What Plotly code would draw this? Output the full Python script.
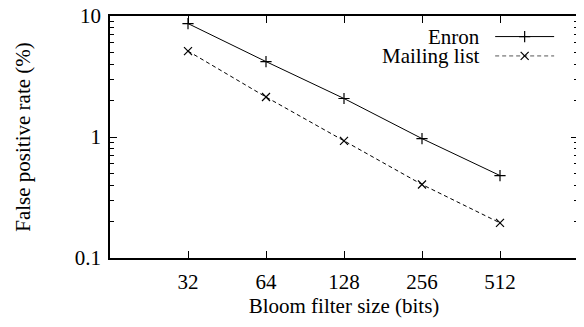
import plotly.graph_objects as go

sizes = [32, 64, 128, 256, 512]
enron = [8.66, 4.2, 2.08, 0.97, 0.48]
mailing = [5.13, 2.14, 0.93, 0.405, 0.195]
x_ticks = [32, 64, 128, 256, 512]
x_tick_labels = ["32", "64", "128", "256", "512"]
y_ticks = [0.1, 1, 10]
y_tick_labels = ["0.1", "1", "10"]
y_minor = [0.2, 0.3, 0.4, 0.5, 0.6, 0.7, 0.8, 0.9, 2, 3, 4, 5, 6, 7, 8, 9]
series_names = ["Enron", "Mailing list"]

FONT = "Liberation Serif"
FS = 21
DASH = "4px,3px"

fig = go.Figure()
fig.add_trace(go.Scatter(
    x=sizes, y=enron, mode="lines+markers", name=series_names[0],
    line=dict(color="black", width=1),
    marker=dict(symbol="cross-thin", size=8, line=dict(color="black", width=1.2)),
    showlegend=False))
fig.add_trace(go.Scatter(
    x=sizes, y=mailing, mode="lines+markers", name=series_names[1],
    line=dict(color="black", width=1, dash=DASH),
    marker=dict(symbol="x-thin", size=8, line=dict(color="black", width=1.2)),
    showlegend=False))

# gnuplot-style key: text on the left, sample on the right
leg_y = [0.915, 0.835]
fig.add_trace(go.Scatter(x=[0.823, 0.949], y=[leg_y[0]] * 2, mode="lines",
                         line=dict(color="black", width=1), xaxis="x2", yaxis="y2",
                         showlegend=False, hoverinfo="skip"))
fig.add_trace(go.Scatter(x=[0.886], y=[leg_y[0]], mode="markers",
                         marker=dict(symbol="cross-thin", size=8, line=dict(color="black", width=1.2)),
                         xaxis="x2", yaxis="y2", showlegend=False, hoverinfo="skip"))
fig.add_trace(go.Scatter(x=[0.823, 0.949], y=[leg_y[1]] * 2, mode="lines",
                         line=dict(color="#555555", width=1, dash=DASH), xaxis="x2", yaxis="y2",
                         showlegend=False, hoverinfo="skip"))
fig.add_trace(go.Scatter(x=[0.886], y=[leg_y[1]], mode="markers",
                         marker=dict(symbol="x-thin", size=8, line=dict(color="black", width=1.2)),
                         xaxis="x2", yaxis="y2", showlegend=False, hoverinfo="skip"))
for name, yy in zip(series_names, leg_y):
    fig.add_annotation(x=0.795, y=yy, xref="x2", yref="y2", text=name, showarrow=False,
                       xanchor="right", yanchor="middle",
                       font=dict(family=FONT, size=FS, color="black"))

# page body has an 8px margin, so the figure is sized/offset to compensate
fig.update_layout(
    width=576, height=319,
    margin=dict(l=102, r=6, t=8, b=69, autoexpand=False),
    paper_bgcolor="white", plot_bgcolor="white",
    font=dict(family=FONT, size=FS, color="black"),
    xaxis=dict(
        type="log", range=[1.20412, 3.0103], automargin=False,
        tickvals=x_ticks, ticktext=x_tick_labels,
        ticks="inside", ticklen=7, tickwidth=1, tickcolor="black",
        ticklabelstandoff=4,
        showline=True, linecolor="black", linewidth=1.5, mirror="allticks",
        showgrid=False, zeroline=False,
        title=dict(text="Bloom filter size (bits)", standoff=5,
                   font=dict(family=FONT, size=FS)),
        tickfont=dict(family=FONT, size=FS),
    ),
    yaxis=dict(
        type="log", range=[-1, 1], automargin=False,
        tickvals=y_ticks, ticktext=y_tick_labels,
        ticks="inside", ticklen=7, tickwidth=1, tickcolor="black",
        ticklabelstandoff=3, ticklabeloverflow="allow",
        minor=dict(tickvals=y_minor, ticks="inside", ticklen=4, tickwidth=1,
                   tickcolor="black", showgrid=False),
        showline=True, linecolor="black", linewidth=1.5, mirror="allticks",
        showgrid=False, zeroline=False,
        title=dict(text="False positive rate (%)", standoff=38,
                   font=dict(family=FONT, size=FS)),
        tickfont=dict(family=FONT, size=FS),
    ),
    xaxis2=dict(overlaying="x", range=[0, 1], visible=False, fixedrange=True),
    yaxis2=dict(overlaying="y", range=[0, 1], visible=False, fixedrange=True),
)

fig.write_html("out.html")
